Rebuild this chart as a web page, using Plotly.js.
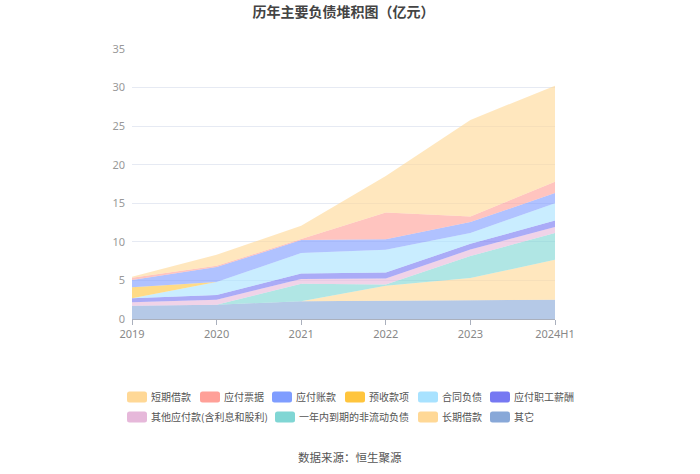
<!DOCTYPE html>
<html><head><meta charset="utf-8">
<script src="https://cdn.plot.ly/plotly-3.0.1.min.js"></script>
<style>html,body{margin:0;padding:0;background:#fff;}#chart{width:700px;height:474px;}</style>
</head><body><div id="chart"></div>
<script>
var categories = ['2019','2020','2021','2022','2023','2024H1'];
// series values (亿元), listed bottom of stack first
var qita        = [1.73, 1.86, 2.29, 2.39, 2.46, 2.50]; // 其它
var changqi     = [0.00, 0.00, 0.00, 1.93, 2.85, 5.18]; // 长期借款
var yinian      = [0.00, 0.00, 2.28, 0.15, 2.85, 3.46]; // 一年内到期的非流动负债
var qitayingfu  = [0.43, 0.64, 0.61, 0.78, 0.84, 0.77]; // 其他应付款(含利息和股利)
var xinchou     = [0.52, 0.60, 0.73, 0.78, 0.75, 0.86]; // 应付职工薪酬
var hetong      = [0.00, 1.69, 2.64, 2.94, 1.39, 2.25]; // 合同负债
var yushou      = [1.42, 0.00, 0.00, 0.00, 0.00, 0.00]; // 预收款项
var zhangkuan   = [0.95, 1.94, 1.68, 1.38, 1.42, 1.30]; // 应付账款
var piaoju      = [0.30, 0.17, 0.13, 3.45, 0.73, 1.46]; // 应付票据
var duanqi      = [0.13, 1.43, 1.72, 4.75, 12.52, 12.47]; // 短期借款

var seriesNames = ['短期借款','应付票据','应付账款','预收款项','合同负债','应付职工薪酬','其他应付款(含利息和股利)','一年内到期的非流动负债','长期借款','其它'];
var seriesData  = [duanqi, piaoju, zhangkuan, yushou, hetong, xinchou, qitayingfu, yinian, changqi, qita];
var seriesColors = ['255,216,150','255,160,152','127,157,255','255,197,61','168,226,255','118,120,242','230,184,218','128,214,212','255,216,150','136,168,216'];
var fillAlpha = 0.62;

// legend placement (text left edge px, row y px)
var legendTextX = [151,224,296,369,442,514,151,299,442,514];
var legendY = [397,397,397,397,397,397,417,417,417,417];

var traces = [];
var layout = {
  width:700, height:474,
  margin:{l:132, r:145, t:49, b:155},
  paper_bgcolor:'#fff', plot_bgcolor:'#fff',
  font:{family:'"Noto Sans CJK SC", "Noto Sans", sans-serif', color:'#666'},
  title:{text:'<b>历年主要负债堆积图（亿元）</b>', x:0.5, xanchor:'center', xref:'paper', y:1-12/474, yanchor:'middle', yref:'container',
         font:{size:14, color:'#444', family:'"Noto Sans CJK SC", sans-serif'}},
  xaxis:{type:'category', range:[0,5], showgrid:false, zeroline:false,
         showline:true, linecolor:'#aab0bd', linewidth:1, ticks:'outside', ticklen:5, tickcolor:'#aab0bd',
         tickfont:{size:11, color:'#888', family:'"Noto Sans", sans-serif'}, fixedrange:true},
  yaxis:{range:[0,35], dtick:5, tick0:0, showgrid:true, gridcolor:'#e6eaf3', gridwidth:1, zeroline:false,
         showline:false, ticks:'', tickfont:{size:11, color:'#999', family:'"Noto Sans", sans-serif'}, ticklabelstandoff:6},
  annotations:[{text:'数据来源：恒生聚源', xref:'paper', yref:'paper', x:(350-132)/423, xanchor:'center',
                y:(319-457)/270, yanchor:'middle', showarrow:false, font:{size:11.5, color:'#555'}}],
  showlegend:true
};

// bottom-up stacking order
for (var k = seriesNames.length-1; k >= 0; k--) {
  var lg = k===0 ? 'legend' : 'legend'+(k+1);
  traces.push({
    type:'scatter', mode:'lines', x:categories, y:seriesData[k], name:seriesNames[k],
    stackgroup:'one', line:{width:0, color:'rgb('+seriesColors[k]+')'},
    fillcolor:'rgba('+seriesColors[k]+','+fillAlpha+')', legend:lg, hoverinfo:'x+y+name'
  });
  layout[lg] = {
    xref:'container', yref:'container', x:(legendTextX[k]-40)/700, xanchor:'left',
    y:1-legendY[k]/474, yanchor:'middle', orientation:'h', bgcolor:'rgba(0,0,0,0)',
    font:{size:10, color:'#555'}, itemwidth:30
  };
}

var swatchPath = 'M18.5,-5.5h15a2.5,2.5 0 0 1 2.5,2.5v6a2.5,2.5 0 0 1 -2.5,2.5h-15a2.5,2.5 0 0 1 -2.5,-2.5v-6a2.5,2.5 0 0 1 2.5,-2.5z';
function restyleSwatches(){
  var gd = document.getElementById('chart');
  var items = gd.querySelectorAll('g.traces');
  items.forEach(function(it){
    var t = it.querySelector('text');
    if(!t) return;
    var idx = seriesNames.indexOf(t.textContent);
    if(idx < 0) return;
    it.querySelectorAll('.legendfill path').forEach(function(p, j){
      if(j===0){ p.setAttribute('d', swatchPath); p.style.fill = 'rgb('+seriesColors[idx]+')'; p.style.fillOpacity = 1; p.style.stroke='none'; }
      else { p.style.display = 'none'; }
    });
    it.querySelectorAll('.legendlines path').forEach(function(p){ p.style.display='none'; });
  });
}
Plotly.newPlot('chart', traces, layout, {displayModeBar:false, staticPlot:true}).then(function(gd){
  restyleSwatches();
  gd.on('plotly_afterplot', restyleSwatches);
});
</script>
</body></html>
